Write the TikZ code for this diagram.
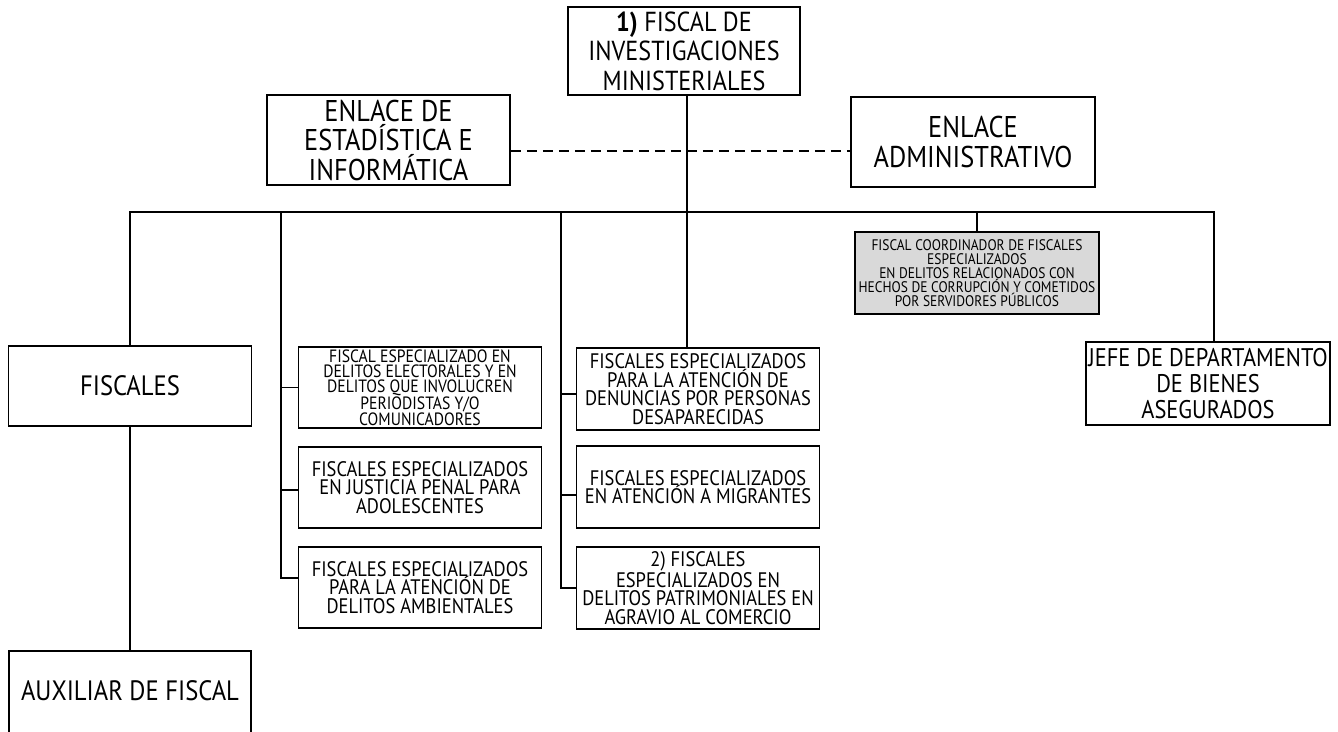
\documentclass[tikz,border=0pt]{standalone}
\usepackage{fontspec}
\setmainfont{PT Sans}[FakeStretch=0.88]
\usetikzlibrary{positioning}
\definecolor{GrisCaja}{RGB}{217,217,217}

\begin{document}
\begin{tikzpicture}[x=1pt, y=-1pt,
    caja/.style={draw, line width=1.8pt, align=center, inner sep=0pt, minimum width=243pt, minimum height=81pt},
    linea/.style={line width=1.8pt},
    tgrande/.style={font=\fontsize{27.5}{29.5}\selectfont},
    tenlace/.style={font=\fontsize{30}{29.5}\selectfont},
    tmedia/.style={font=\fontsize{28}{26}\selectfont},
    tjefe/.style={font=\fontsize{25.5}{26}\selectfont},
    tchica/.style={font=\fontsize{21}{18.6}\selectfont},
    tmini/.style={font=\fontsize{17.8}{15.2}\selectfont},
    tgris/.style={font=\fontsize{15.3}{14}\selectfont}]
    \useasboundingbox (0,0) rectangle (1338,731);

    % Titular y enlaces
    \node[caja, tgrande, minimum width=232pt, minimum height=88pt] (titular) at (684,51)
        {\textbf{1)} FISCAL DE\\INVESTIGACIONES\\MINISTERIALES};
    \node[caja, tenlace, minimum height=90pt] (estad) at (388.5,140)
        {ENLACE DE\\ESTADÍSTICA E\\INFORMÁTICA};
    \node[caja, tenlace, minimum width=244pt, minimum height=90pt] (admin) at (973,142)
        {ENLACE\\ADMINISTRATIVO};
    \coordinate (bus) at (687,212);

    % Columna izquierda
    \node[caja, tmedia, minimum height=80pt] (fiscales) at (130,386) {FISCALES};
    \node[draw, line width=1.8pt, inner sep=0pt, minimum width=242pt, text height=50pt, text depth=60pt, anchor=north]
        (auxiliar) at (130,650) {\fontsize{28}{26}\selectfont AUXILIAR DE FISCAL};

    % Fiscales especializados
    \node[caja, tmini] (electorales) at (420,387.5)
        {FISCAL ESPECIALIZADO EN\\DELITOS ELECTORALES Y EN\\DELITOS QUE INVOLUCREN\\PERIODISTAS Y/O\\COMUNICADORES};
    \node[caja, tchica] (adolescentes) at (420,487.5)
        {FISCALES ESPECIALIZADOS\\EN JUSTICIA PENAL PARA\\ADOLESCENTES};
    \node[caja, tchica] (ambientales) at (420,587.5)
        {FISCALES ESPECIALIZADOS\\PARA LA ATENCIÓN DE\\DELITOS AMBIENTALES};
    \node[caja, tchica, minimum height=82pt] (desaparecidas) at (698,389)
        {FISCALES ESPECIALIZADOS\\PARA LA ATENCIÓN DE\\DENUNCIAS POR PERSONAS\\DESAPARECIDAS};
    \node[caja, tchica, minimum height=82pt] (migrantes) at (698,487)
        {FISCALES ESPECIALIZADOS\\EN ATENCIÓN A MIGRANTES};
    \node[caja, tchica, minimum height=82pt] (comercio) at (698,588)
        {2) FISCALES\\ESPECIALIZADOS EN\\DELITOS PATRIMONIALES EN\\AGRAVIO AL COMERCIO};

    % Columna derecha
    \node[caja, tgris, fill=GrisCaja, minimum width=244pt, minimum height=82pt] (coordinador) at (977,273)
        {FISCAL COORDINADOR DE FISCALES\\ESPECIALIZADOS\\EN DELITOS RELACIONADOS CON\\HECHOS DE CORRUPCIÓN Y COMETIDOS\\POR SERVIDORES PÚBLICOS};
    \node[caja, tjefe, minimum width=244pt, minimum height=83pt] (jefe) at (1208,383.5)
        {JEFE DE DEPARTAMENTO\\DE BIENES\\ASEGURADOS};

    % Conectores
    \draw[line width=1.5pt, dash pattern=on 10pt off 6pt] (estad.east |- 0,151) -- (admin.west |- 0,151);
    \draw[linea] (titular.south -| bus) -- (desaparecidas.north -| bus);
    \draw[linea] (fiscales.north) -- (fiscales.north |- bus) -- ([xshift=6pt]jefe.north |- bus)
        -- ([xshift=6pt]jefe.north);
    \draw[linea] (coordinador.north |- bus) -- (coordinador.north);
    \draw[linea] (fiscales.south) -- (auxiliar.north);

    \coordinate (ramaL) at (281,212);
    \draw[linea] (ramaL) |- ([yshift=9.5pt]ambientales.west);
    \draw[linea] (ramaL |- electorales.west) -- (electorales.west);
    \draw[linea] (ramaL |- adolescentes.west) ++(0,2.5) -- ([yshift=-2.5pt]adolescentes.west);

    \coordinate (ramaM) at (561,212);
    \draw[linea] (ramaM) |- (comercio.west);
    \draw[linea] (ramaM |- desaparecidas.west) ++(0,5) -- ([yshift=-5pt]desaparecidas.west);
    \draw[linea] (ramaM |- migrantes.west) ++(0,8) -- ([yshift=-8pt]migrantes.west);
\end{tikzpicture}
\end{document}
